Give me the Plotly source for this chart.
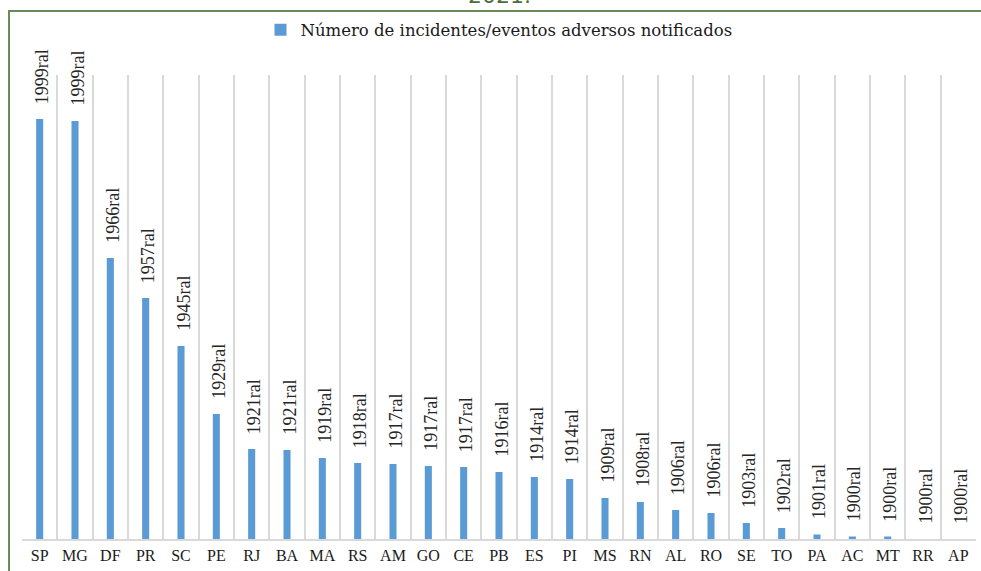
import plotly.graph_objects as go

# Unidades federativas, em ordem decrescente de notificações
estados = ["SP", "MG", "DF", "PR", "SC", "PE", "RJ", "BA", "MA", "RS", "AM", "GO", "CE",
           "PB", "ES", "PI", "MS", "RN", "AL", "RO", "SE", "TO", "PA", "AC", "MT", "RR", "AP"]

# Número de incidentes/eventos adversos notificados (escala relativa)
notificacoes = [420, 418, 281, 241, 193, 125, 90, 89, 81, 76, 75, 73, 72,
                67, 62, 60, 41, 37, 29, 26, 16, 11, 4.5, 2.5, 2.5, 0, 0]

# Rótulos exibidos acima de cada barra
rotulos = ["1999ral", "1999ral", "1966ral", "1957ral", "1945ral", "1929ral", "1921ral",
           "1921ral", "1919ral", "1918ral", "1917ral", "1917ral", "1917ral", "1916ral",
           "1914ral", "1914ral", "1909ral", "1908ral", "1906ral", "1906ral", "1903ral",
           "1902ral", "1901ral", "1900ral", "1900ral", "1900ral", "1900ral"]

serie_nome = "Número de incidentes/eventos adversos notificados"
ano = "2021."

AZUL = "#5B9BD5"
GRADE = "#d9d9d9"
VERDE = "#6a8a58"
SERIF = "Liberation Serif, Times New Roman, serif"

fig = go.Figure()
fig.add_trace(go.Bar(
    x=estados,
    y=notificacoes,
    name=serie_nome,
    marker=dict(color=AZUL, line=dict(width=0)),
    width=0.2,
    showlegend=True,
))

# Rótulos verticais acima das barras
for est, val, txt in zip(estados, notificacoes, rotulos):
    fig.add_annotation(
        x=est, y=val, xref="x", yref="y",
        text=txt, textangle=-90, showarrow=False,
        xanchor="center", yanchor="bottom", yshift=13, xshift=2,
        font=dict(family=SERIF, size=18, color="#262626"),
    )

# Ano (título parcialmente fora da página)
fig.add_annotation(
    x=0.5, y=1.141, xref="paper", yref="paper",
    text=ano, showarrow=False, xanchor="center", yanchor="bottom",
    font=dict(family="DejaVu Sans, sans-serif", size=22, color="#4f6b3f"),
)

# Moldura verde
fig.add_shape(
    type="rect", xref="paper", yref="paper",
    x0=-0.0136, x1=1.2, y0=-0.5, y1=1.138,
    line=dict(color=VERDE, width=2), fillcolor="rgba(0,0,0,0)", layer="above",
)

fig.update_layout(
    width=981, height=571,
    margin=dict(l=22, r=5, t=75, b=32, autoexpand=False),
    paper_bgcolor="white", plot_bgcolor="white",
    bargap=0.8,
    legend=dict(
        orientation="h", x=0.5, xanchor="center", y=1.097, yanchor="middle",
        font=dict(family="DejaVu Serif, serif", size=16.5, color="#1a1a1a"),
        bgcolor="rgba(0,0,0,0)", itemwidth=30,
    ),
    xaxis=dict(
        type="category", tickson="boundaries", showgrid=True,
        gridcolor=GRADE, gridwidth=2,
        showline=True, linecolor=GRADE, linewidth=2,
        ticks="", ticklabelstandoff=1, tickangle=0, automargin=False,
        tickfont=dict(family=SERIF, size=16, color="#1a1a1a"),
    ),
    yaxis=dict(range=[0, 464], visible=False, showgrid=False, zeroline=False),
)

fig.write_html("out.html")
